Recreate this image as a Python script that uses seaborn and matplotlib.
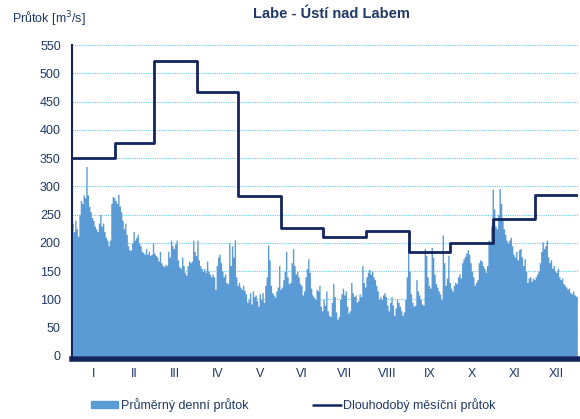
#!/usr/bin/env python3
"""Daily and long-term monthly discharge, Labe - Ústí nad Labem."""

import matplotlib.pyplot as plt
from matplotlib.lines import Line2D
from matplotlib.patches import Patch
import numpy as np
import seaborn as sns

# month labels and days per month
months = ["I", "II", "III", "IV", "V", "VI", "VII", "VIII", "IX", "X", "XI", "XII"]
month_days = [31, 28, 31, 30, 31, 30, 31, 31, 30, 31, 30, 31]

# long-term monthly mean discharge [m3/s]
monthly_mean = [350, 376, 521, 466, 283, 227, 210, 221, 184, 199, 243, 284]

# average daily discharge [m3/s]
jan = [235, 220, 240, 225, 212, 250, 275, 270, 285, 280, 335, 285, 265, 255, 245, 240,
       230, 225, 220, 235, 250, 230, 235, 220, 210, 205, 195, 205, 270, 282, 280]
feb = [275, 270, 286, 265, 255, 240, 225, 235, 215, 195, 188, 187, 200, 220, 205, 210,
       215, 200, 195, 185, 183, 180, 190, 180, 185, 178, 180, 200]
mar = [182, 178, 175, 168, 185, 165, 160, 158, 162, 160, 185, 175, 205, 195, 190, 198,
       205, 170, 158, 155, 175, 160, 148, 143, 160, 168, 165, 168, 205, 185, 178]
apr = [205, 170, 160, 155, 150, 155, 148, 168, 150, 145, 140, 145, 140, 118, 160, 175,
       180, 165, 150, 140, 145, 130, 128, 200, 160, 195, 175, 205, 140, 125]
may = [130, 122, 118, 125, 116, 110, 95, 100, 112, 92, 115, 105, 108, 98, 88, 110,
       100, 112, 95, 125, 140, 196, 170, 125, 112, 108, 104, 115, 122, 160, 118]
jun = [122, 135, 150, 185, 140, 128, 130, 165, 190, 160, 145, 150, 140, 128, 125, 108,
       115, 140, 155, 172, 148, 120, 108, 104, 100, 118, 115, 125, 88, 80]
jul = [100, 90, 115, 80, 72, 70, 95, 128, 105, 78, 65, 70, 100, 110, 120, 108,
       115, 88, 76, 80, 130, 112, 105, 108, 95, 98, 110, 105, 160, 130, 122]
aug = [140, 148, 153, 145, 150, 140, 135, 125, 115, 100, 105, 100, 108, 112, 105, 90,
       80, 95, 105, 90, 72, 85, 100, 95, 88, 80, 72, 78, 100, 140, 200]
sep = [150, 110, 95, 88, 90, 135, 115, 108, 100, 92, 90, 190, 178, 140, 125, 120,
       192, 175, 145, 128, 122, 115, 110, 100, 214, 165, 125, 138, 178, 130]
oct_ = [120, 115, 125, 130, 128, 140, 145, 138, 165, 172, 176, 182, 188, 180, 165, 150,
        140, 125, 130, 135, 165, 170, 168, 160, 155, 148, 160, 205, 203, 230, 295]
nov = [260, 230, 225, 250, 296, 270, 240, 225, 215, 205, 200, 205, 210, 195, 180, 175,
       185, 170, 188, 190, 175, 160, 172, 150, 130, 138, 140, 132, 138, 135]
dec = [140, 145, 150, 165, 185, 202, 190, 195, 205, 175, 165, 170, 155, 160, 150, 148,
       155, 140, 135, 138, 128, 125, 122, 118, 120, 112, 110, 115, 108, 106, 105]

daily = jan + feb + mar + apr + may + jun + jul + aug + sep + oct_ + nov + dec

NAVY = "#13255E"
TEXT = "#1F3864"
FILL = "#5B9BD5"

sns.set_style("white")
plt.rcParams["font.family"] = ["Liberation Sans", "DejaVu Sans"]

fig = plt.figure(figsize=(5.8, 4.19), dpi=100)
ax = fig.add_axes([0.124, 0.1504, 0.8726, 0.7422])

days = np.arange(len(daily)) + 0.5
ax.fill_between(days, daily, step="mid", color=FILL, linewidth=0, zorder=2)

edges = np.concatenate([[0], np.cumsum(month_days)])
sns.lineplot(x=edges, y=monthly_mean + [monthly_mean[-1]], drawstyle="steps-post",
             color=NAVY, linewidth=2, ax=ax, zorder=3)

ax.set_xlim(0, edges[-1])
ax.set_ylim(0, 550)
ax.set_yticks(range(0, 551, 50))
ax.set_xticks((edges[:-1] + edges[1:]) / 2)
ax.set_xticklabels(months)
ax.tick_params(axis="both", length=0, labelsize=9, colors=TEXT)
ax.tick_params(axis="y", pad=8)
ax.tick_params(axis="x", pad=7)

ax.yaxis.grid(True, color="#6CC8EE", linestyle=(0, (1, 1)), linewidth=0.8)
ax.set_axisbelow(True)
ax.set_xlabel("")
ax.set_ylabel("")

for side in ["top", "right"]:
    ax.spines[side].set_visible(False)
ax.spines["left"].set_color(NAVY)
ax.spines["left"].set_linewidth(1.5)
ax.spines["bottom"].set_color(NAVY)
ax.spines["bottom"].set_linewidth(4)
ax.spines["bottom"].set_position(("outward", 2))
ax.spines["bottom"].set_zorder(4)

fig.text(0.572, 0.967, "Labe - Ústí nad Labem", ha="center", va="center",
         fontsize=10.5, fontweight="bold", color=TEXT)
fig.text(0.02, 0.955, "Průtok [m$^3$/s]", ha="left", va="center",
         fontsize=9, color=TEXT)

handles = [Patch(color=FILL), Line2D([], [], color=NAVY, linewidth=1.8)]
labels = ["Průměrný denní průtok", "Dlouhodobý měsíční průtok"]
fig.legend(handles, labels, loc="center", bbox_to_anchor=(0.506, 0.033), ncol=2,
           frameon=False, fontsize=9, labelcolor=TEXT, handlelength=2.2,
           handleheight=0.5, handletextpad=0.2, columnspacing=5.2)

fig.savefig("out.png", dpi=100)
